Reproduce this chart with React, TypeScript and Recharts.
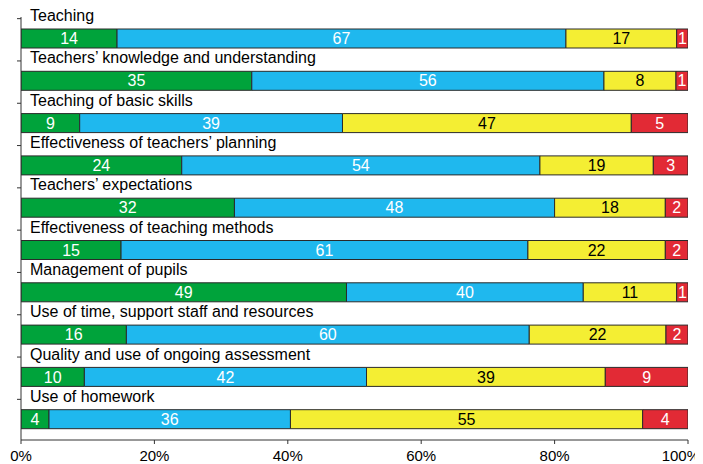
import React from "react";
import { BarChart, Bar, XAxis, YAxis, LabelList } from "recharts";

const categories = [
  "Teaching",
  "Teachers\u2019 knowledge and understanding",
  "Teaching of basic skills",
  "Effectiveness of teachers\u2019 planning",
  "Teachers\u2019 expectations",
  "Effectiveness of teaching methods",
  "Management of pupils",
  "Use of time, support staff and resources",
  "Quality and use of ongoing assessment",
  "Use of homework",
];

// segment widths as drawn (percent of bar)
const greenShare = [14.4, 34.6, 8.8, 24.1, 32.0, 15.0, 48.8, 15.8, 9.5, 4.2];
const blueShare = [67.3, 52.8, 39.4, 53.7, 48.0, 61.0, 35.5, 60.4, 42.3, 36.2];
const yellowShare = [16.6, 10.8, 43.3, 17.0, 16.6, 20.6, 14.0, 20.5, 35.8, 52.8];
const redShare = [1.7, 1.8, 8.5, 5.2, 3.4, 3.4, 1.7, 3.3, 12.4, 6.8];

// printed labels
const greenLabels = [14, 35, 9, 24, 32, 15, 49, 16, 10, 4];
const blueLabels = [67, 56, 39, 54, 48, 61, 40, 60, 42, 36];
const yellowLabels = [17, 8, 47, 19, 18, 22, 11, 22, 39, 55];
const redLabels = [1, 1, 5, 3, 2, 2, 1, 2, 9, 4];

const xTicks = [0, 20, 40, 60, 80, 100];

const data = categories.map((name, i) => ({
  name,
  g: greenShare[i],
  b: blueShare[i],
  y: yellowShare[i],
  r: redShare[i],
  gl: greenLabels[i],
  bl: blueLabels[i],
  yl: yellowLabels[i],
  rl: redLabels[i],
}));

const YW = 1;
const MARGIN = { top: 9, right: 15, bottom: 0, left: 12 };
const AX = MARGIN.left + YW;
const FONT = '"Liberation Sans", Arial, Helvetica, sans-serif';

const CategoryTick = (props: any) => {
  const { y, payload } = props;
  return (
    <g>
      <line x1={AX - 4} x2={AX} y1={y - 19.5} y2={y - 19.5} stroke="#333" strokeWidth={1} />
      <text x={AX + 9} y={y - 17} fontSize={16} fill="#000" fontFamily={FONT}>
        {payload.value}
      </text>
    </g>
  );
};

const PercentTick = (props: any) => {
  const { x, y, payload } = props;
  const last = payload.value === 100;
  return (
    <text
      x={last ? x + 12 : x}
      y={y}
      dy="0.71em"
      textAnchor={last ? "end" : "middle"}
      fontSize={15}
      fill="#000"
      fontFamily={FONT}
    >
      {`${payload.value}%`}
    </text>
  );
};

const STROKE = "#2a2a2a";

export default function App() {
  return (
    <div style={{ width: 695, height: 456, fontFamily: FONT }}>
      <BarChart width={695} height={456} data={data} layout="vertical" margin={MARGIN}>
        <XAxis
          type="number"
          domain={[0, 100]}
          ticks={xTicks}
          height={24}
          tickSize={4}
          tickMargin={6}
          interval={0}
          allowDataOverflow
          stroke="#333"
          tick={<PercentTick />}
        />
        <YAxis
          type="category"
          dataKey="name"
          width={YW}
          interval={0}
          tickLine={false}
          stroke="#333"
          tick={<CategoryTick />}
        />
        <Bar dataKey="g" stackId="s" fill="#00A33B" stroke={STROKE} strokeWidth={1} barSize={19} isAnimationActive={false}>
          <LabelList dataKey="gl" position="center" fill="#fff" fontSize={16} fontFamily={FONT} />
        </Bar>
        <Bar dataKey="b" stackId="s" fill="#1FB8EE" stroke={STROKE} strokeWidth={1} barSize={19} isAnimationActive={false}>
          <LabelList dataKey="bl" position="center" fill="#fff" fontSize={16} fontFamily={FONT} />
        </Bar>
        <Bar dataKey="y" stackId="s" fill="#F4EE33" stroke={STROKE} strokeWidth={1} barSize={19} isAnimationActive={false}>
          <LabelList dataKey="yl" position="center" fill="#000" fontSize={16} fontFamily={FONT} />
        </Bar>
        <Bar dataKey="r" stackId="s" fill="#E22A35" stroke={STROKE} strokeWidth={1} barSize={19} isAnimationActive={false}>
          <LabelList dataKey="rl" position="center" fill="#fff" fontSize={16} fontFamily={FONT} />
        </Bar>
      </BarChart>
    </div>
  );
}
